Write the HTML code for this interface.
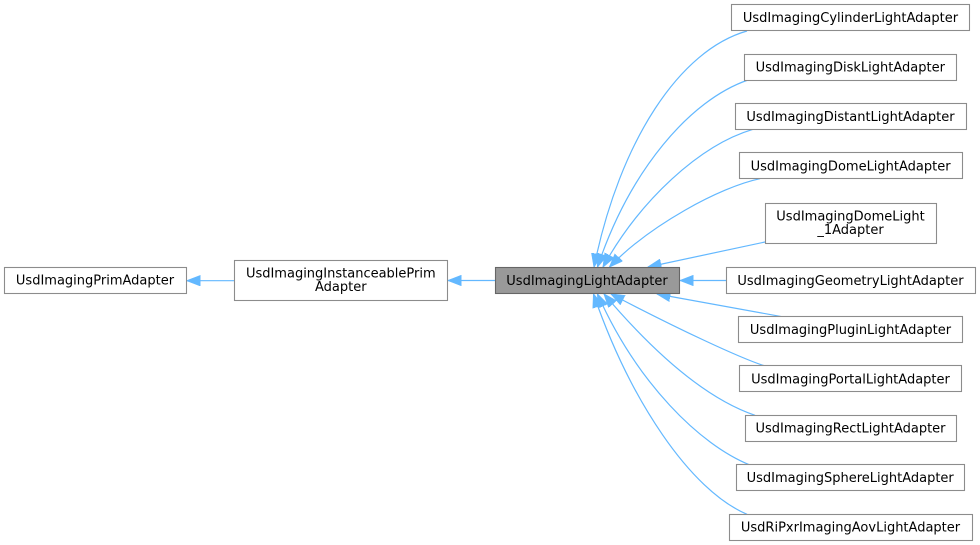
<!DOCTYPE html>
<html><head><meta charset="utf-8"><style>
html,body{margin:0;padding:0;background:#fff;}
svg{display:block;}
text{font-family:"DejaVu Sans","Liberation Sans",sans-serif;font-size:13px;fill:#000;text-anchor:middle;}
.b{fill:#fff;stroke:#8c8c8c;stroke-width:1.1;}
.g{fill:#999;stroke:#666;stroke-width:1.1;}
.e{fill:none;stroke:#63b8ff;stroke-width:1.2;}
</style></head><body>
<svg width="980" height="545" viewBox="0 0 980 545" xmlns="http://www.w3.org/2000/svg">
<defs>
<marker id="a" markerUnits="userSpaceOnUse" markerWidth="14" markerHeight="11" viewBox="0 0 13 10" refX="12.5" refY="5" orient="auto">
<path d="M0,0 L13,5 L0,10 z" fill="#63b8ff" stroke="#63b8ff" stroke-width="0.5"/>
</marker>
</defs>

<!-- edges -->
<path class="e" marker-end="url(#a)" d="M234,280.7 L187,280.7"/>
<path class="e" marker-end="url(#a)" d="M495,280.5 L448,280.5"/>
<path class="e" marker-end="url(#a)" d="M726,280.5 L680,280.5"/>

<path class="e" marker-end="url(#a)" d="M747,31 C680,50 620,140 594,267"/>
<path class="e" marker-end="url(#a)" d="M748,80 C690,100 630,170 597.5,267"/>
<path class="e" marker-end="url(#a)" d="M753,129.3 C700,145 640,200 603,267"/>
<path class="e" marker-end="url(#a)" d="M760,178.7 C720,187 650,225 609.5,267"/>
<path class="e" marker-end="url(#a)" d="M765,242 L648,267"/>
<path class="e" marker-end="url(#a)" d="M782,316.7 L657,294"/>

<path class="e" marker-end="url(#a)" d="M765,366 C740,358 680,330 611,294"/>
<path class="e" marker-end="url(#a)" d="M755,415.3 C710,400 660,360 604,294"/>
<path class="e" marker-end="url(#a)" d="M750,465 C700,445 637,383 597.5,294"/>
<path class="e" marker-end="url(#a)" d="M747,514.3 C690,490 630,400 593.5,294"/>

<!-- nodes -->
<rect class="b" x="4.5" y="267.5" width="182" height="26"/>
<text x="95" y="284.5">UsdImagingPrimAdapter</text>

<rect class="b" x="234.5" y="260.5" width="213" height="40"/>
<text x="340.8" y="277.7">UsdImagingInstanceablePrim</text>
<text x="340.8" y="291.2">Adapter</text>

<rect class="g" x="495.5" y="267.5" width="184" height="26"/>
<text x="587" y="285">UsdImagingLightAdapter</text>

<rect class="b" x="731.5" y="4.5" width="238" height="26"/>
<text x="850.5" y="22.2">UsdImagingCylinderLightAdapter</text>

<rect class="b" x="744.5" y="54.5" width="212" height="26"/>
<text x="850.3" y="71.5">UsdImagingDiskLightAdapter</text>

<rect class="b" x="735.5" y="103.5" width="231" height="26"/>
<text x="850.5" y="120.9">UsdImagingDistantLightAdapter</text>

<rect class="b" x="739.5" y="152.5" width="223" height="26"/>
<text x="850.6" y="170.4">UsdImagingDomeLightAdapter</text>

<rect class="b" x="765.5" y="203.5" width="171" height="40"/>
<text x="850.5" y="220.3">UsdImagingDomeLight</text>
<text x="850.5" y="234">_1Adapter</text>

<rect class="b" x="726.5" y="267.5" width="249" height="26"/>
<text x="850.5" y="285">UsdImagingGeometryLightAdapter</text>

<rect class="b" x="738.5" y="316.5" width="224" height="26"/>
<text x="850.5" y="334">UsdImagingPluginLightAdapter</text>

<rect class="b" x="739.5" y="365.5" width="222" height="26"/>
<text x="850.5" y="383.3">UsdImagingPortalLightAdapter</text>

<rect class="b" x="745.5" y="415.5" width="211" height="26"/>
<text x="850.5" y="432.5">UsdImagingRectLightAdapter</text>

<rect class="b" x="736.5" y="464.5" width="228" height="26"/>
<text x="850.2" y="482">UsdImagingSphereLightAdapter</text>

<rect class="b" x="729.5" y="514.5" width="243" height="26"/>
<text x="850.5" y="531.5">UsdRiPxrImagingAovLightAdapter</text>
</svg>
</body></html>
